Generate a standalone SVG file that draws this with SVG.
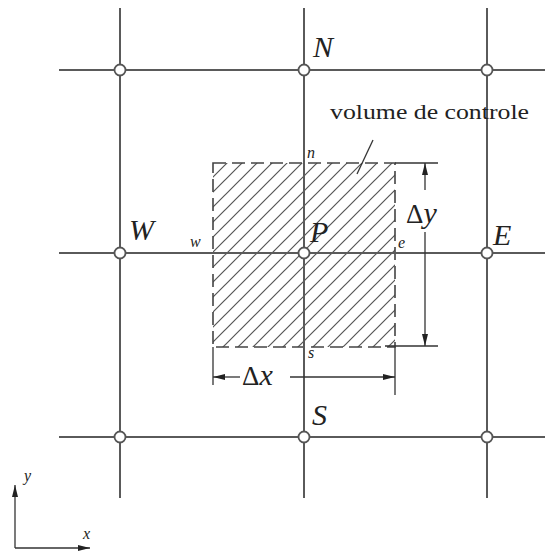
<svg xmlns="http://www.w3.org/2000/svg" width="545" height="554" viewBox="0 0 545 554">
<style>
.grid{stroke:#5a5a5a;stroke-width:2;fill:none}
.node{fill:#fff;stroke:#555;stroke-width:1.8}
.cv{fill:none;stroke:#444;stroke-width:1.6;stroke-dasharray:13 6}
.dim{stroke:#333;stroke-width:1.3;fill:none}
.big{font-family:"Liberation Serif",serif;font-style:italic;font-size:30px;fill:#222}
.small{font-family:"Liberation Serif",serif;font-style:italic;font-size:16px;fill:#222}
.delta{font-family:"Liberation Serif",serif;font-size:27px;fill:#222}
.lbl{font-family:"Liberation Serif",serif;font-size:20px;fill:#222}
</style>
<defs>
<pattern id="hatch" patternUnits="userSpaceOnUse" width="15" height="15">
<path d="M0,15 L15,0 M-3.75,3.75 L3.75,-3.75 M11.25,18.75 L18.75,11.25" stroke="#555" stroke-width="1.2"/>
</pattern>
<marker id="arr" viewBox="0 0 12 6" refX="12" refY="3" markerUnits="userSpaceOnUse" markerWidth="12" markerHeight="6" orient="auto-start-reverse">
<path d="M0,0 L12,3 L0,6 z" fill="#222"/>
</marker>
</defs>
<g id="control-volume">
<rect x="213" y="163" width="182" height="184" fill="url(#hatch)"/>
<rect x="213" y="163" width="182" height="184" class="cv"/>
</g>
<g id="connectors">
<line class="grid" x1="120" y1="8" x2="120" y2="498"/>
<line class="grid" x1="304" y1="8" x2="304" y2="498"/>
<line class="grid" x1="487" y1="8" x2="487" y2="498"/>
<line class="grid" x1="59" y1="70" x2="545" y2="70"/>
<line class="grid" x1="59" y1="253" x2="545" y2="253"/>
<line class="grid" x1="59" y1="437" x2="545" y2="437"/>
</g>
<g id="nodes">
<circle class="node" cx="120" cy="70" r="5.5"/>
<circle class="node" cx="304" cy="70" r="5.5"/>
<circle class="node" cx="487" cy="70" r="5.5"/>
<circle class="node" cx="120" cy="253" r="5.5"/>
<circle class="node" cx="304" cy="253" r="5.5"/>
<circle class="node" cx="487" cy="253" r="5.5"/>
<circle class="node" cx="120" cy="437" r="5.5"/>
<circle class="node" cx="304" cy="437" r="5.5"/>
<circle class="node" cx="487" cy="437" r="5.5"/>
</g>
<g id="node-labels">
<text class="big" x="313" y="57">N</text>
<text class="big" x="129" y="240">W</text>
<text class="big" x="493" y="245">E</text>
<text class="big" x="312" y="425">S</text>
<text class="big" x="310" y="242">P</text>
<text class="small" x="307" y="158">n</text>
<text class="small" x="190" y="247" font-size="18">w</text>
<text class="small" x="398" y="248">e</text>
<text class="small" x="308" y="358">s</text>
</g>
<g id="dimension-dy">
<line class="dim" x1="395" y1="163" x2="438" y2="163"/>
<line class="dim" x1="385" y1="346" x2="438" y2="346"/>
<line class="dim" x1="425" y1="190" x2="425" y2="163" marker-end="url(#arr)"/>
<line class="dim" x1="425" y1="232" x2="425" y2="346" marker-end="url(#arr)"/>
<text x="406" y="223"><tspan class="delta">Δ</tspan><tspan class="big">y</tspan></text>
</g>
<g id="dimension-dx">
<line class="dim" x1="213" y1="347" x2="213" y2="385"/>
<line class="dim" x1="395" y1="347" x2="395" y2="395"/>
<line class="dim" x1="240" y1="377" x2="213" y2="377" marker-end="url(#arr)"/>
<line class="dim" x1="290" y1="377" x2="395" y2="377" marker-end="url(#arr)"/>
<text x="242" y="385"><tspan class="delta">Δ</tspan><tspan class="big">x</tspan></text>
</g>
<g id="annotation">
<text class="lbl" x="330" y="119" textLength="199" lengthAdjust="spacingAndGlyphs">volume de controle</text>
<line class="dim" x1="373" y1="140" x2="357" y2="174"/>
</g>
<g id="axes">
<line class="dim" x1="15" y1="548" x2="15" y2="485" marker-end="url(#arr)"/>
<line class="dim" x1="15" y1="548" x2="90" y2="548" marker-end="url(#arr)"/>
<text class="small" x="24" y="481" font-size="20">y</text>
<text class="small" x="83" y="539" font-size="20">x</text>
</g>
</svg>
